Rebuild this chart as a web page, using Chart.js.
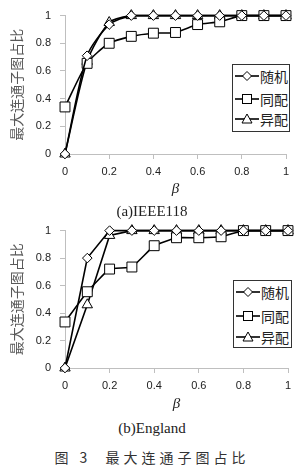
<!DOCTYPE html>
<html><head><meta charset="utf-8">
<script src="https://cdn.jsdelivr.net/npm/chart.js@4"></script>
<style>
body{margin:0;width:304px;height:469px;background:#fff;position:relative;overflow:hidden;}
canvas{position:absolute;left:0;}
.cap{position:absolute;left:0;width:304px;text-align:center;font-family:"Liberation Serif",serif;font-size:15px;color:#222;line-height:18px;}
.fig{position:absolute;left:0;width:304px;text-align:center;font-family:"Noto Sans CJK SC",sans-serif;font-size:14px;color:#333;letter-spacing:4px;line-height:18px;}
.leg{position:absolute;border:1px solid #333;background:#fff;box-sizing:border-box;}
.row{position:absolute;left:2px;height:18px;display:flex;align-items:center;font-family:"Noto Sans CJK SC",sans-serif;font-size:14px;color:#222;}
.row svg{margin-right:1px;}
</style></head><body>
<canvas id="ca" width="304" height="200" style="top:0"></canvas>
<canvas id="cb" width="304" height="200" style="top:215px"></canvas>
<div class="cap" style="top:202px">(a)IEEE118</div>
<div class="cap" style="top:419px">(b)England</div>
<div class="fig" style="top:448px">图 3&nbsp;&nbsp;最大连通子图占比</div>
<div id="legA" class="leg" style="left:232px;top:64px;width:58px;height:68px"></div>
<div id="legB" class="leg" style="left:233px;top:280px;width:59px;height:68px"></div>
<script>
const betaValues = [0, 0.1, 0.2, 0.3, 0.4, 0.5, 0.6, 0.7, 0.8, 0.9, 1];
const seriesNames = ['随机', '同配', '异配'];
// (a) IEEE118
const randomA     = [0, 0.71, 0.935, 1, 1, 1, 1, 1, 1, 1, 1];
const assortA     = [0.34, 0.655, 0.80, 0.85, 0.873, 0.878, 0.935, 0.955, 1, 1, 1];
const disassortA  = [0, 0.67, 0.95, 1, 1, 1, 1, 1, 1, 1, 1];
// (b) England
const randomB     = [0, 0.80, 1, 1, 1, 1, 1, 1, 1, 1, 1];
const assortB     = [0.335, 0.555, 0.72, 0.735, 0.89, 0.948, 0.948, 0.955, 1, 1, 1];
const disassortB  = [0, 0.46, 0.965, 1, 1, 1, 1, 1, 1, 1, 1];
const xTickValues = [0, 0.2, 0.4, 0.6, 0.8, 1];
const xTickLabels = ['0', '0.2', '0.4', '0.6', '0.8', '1'];
const yTickValues = [0, 0.2, 0.4, 0.6, 0.8, 1];
const yTickLabels = ['0', '0.2', '0.4', '0.6', '0.8', '1'];
const yTitle = '最大连通子图占比';
const xTitle = 'β';

const styles = [
  {pointStyle: 'rectRot', pointRadius: 4.8},
  {pointStyle: 'rect', pointRadius: 7},
  {pointStyle: 'triangle', pointRadius: 6}
];

function ds(arr, k, tension) {
  return {
    label: seriesNames[k],
    data: betaValues.map((x, i) => ({x: x, y: arr[i]})),
    borderColor: '#000', borderWidth: 1.6,
    pointBackgroundColor: '#fff', pointBorderColor: '#000', pointBorderWidth: 1,
    pointStyle: styles[k].pointStyle, pointRadius: styles[k].pointRadius,
    tension: tension, clip: false, fill: false
  };
}

function makeChart(id, sets, o) {
  return new Chart(document.getElementById(id), {
    type: 'line',
    data: {datasets: sets},
    options: {
      responsive: false, animation: false,
      layout: {padding: {top: o.top, right: o.right, left: 0, bottom: 0}},
      plugins: {legend: {display: false}, tooltip: {enabled: false}},
      scales: {
        x: {
          type: 'linear', min: 0, max: 1,
          afterBuildTicks: s => { s.ticks = xTickValues.map(v => ({value: v})); },
          ticks: {callback: (v, i) => xTickLabels[i], font: {family: 'Liberation Sans', size: 11}, color: '#222', padding: 6, maxRotation: 0, autoSkip: false},
          grid: {display: true, drawOnChartArea: false, drawTicks: true, tickLength: 5, color: '#bfbfbf'},
          border: {color: '#bfbfbf'},
          title: {display: true, text: xTitle, font: {family: 'Liberation Serif', style: 'italic', size: 15}, color: '#222', padding: {top: 0, bottom: 2}},
          afterFit: s => { s.height = o.xh; }
        },
        y: {
          type: 'linear', min: 0, max: 1,
          afterBuildTicks: s => { s.ticks = yTickValues.map(v => ({value: v})); },
          ticks: {callback: (v, i) => yTickLabels[i], font: {family: 'Liberation Sans', size: 11}, color: '#222', padding: 9, autoSkip: false},
          grid: {display: true, drawOnChartArea: false, drawTicks: true, tickLength: 5, color: '#bfbfbf'},
          border: {color: '#bfbfbf'},
          title: {display: true, text: yTitle, font: {family: 'Noto Sans CJK SC', size: 14}, color: '#595959', padding: {top: 8, bottom: 0}},
          afterFit: s => { s.width = 65; }
        }
      }
    }
  });
}

makeChart('ca', [ds(randomA, 0, 0.25), ds(assortA, 1, 0.25), ds(disassortA, 2, 0.25)], {top: 15, right: 18, xh: 46});
makeChart('cb', [ds(randomB, 0, 0), ds(assortB, 1, 0.1), ds(disassortB, 2, 0)], {top: 15, right: 16, xh: 47});

function symbol(k) {
  let m = '';
  if (k === 0) m = '<polygon points="12,2.5 16.5,7 12,11.5 7.5,7" fill="#fff" stroke="#000" stroke-width="1"/>';
  if (k === 1) m = '<rect x="7.5" y="2.5" width="9" height="9" fill="#fff" stroke="#000" stroke-width="1"/>';
  if (k === 2) m = '<polygon points="12,2 17,11 7,11" fill="#fff" stroke="#000" stroke-width="1"/>';
  return '<svg width="24" height="14" viewBox="0 0 24 14"><line x1="0" y1="7" x2="24" y2="7" stroke="#000" stroke-width="1.6"/>' + m + '</svg>';
}
function buildLegend(id, rowsY) {
  const el = document.getElementById(id);
  seriesNames.forEach((n, k) => {
    const r = document.createElement('div');
    r.className = 'row';
    r.style.top = rowsY[k] + 'px';
    r.innerHTML = symbol(k) + '<span>' + n + '</span>';
    el.appendChild(r);
  });
}
buildLegend('legA', [2, 25, 45]);
buildLegend('legB', [2, 26, 47]);
</script>
</body></html>
